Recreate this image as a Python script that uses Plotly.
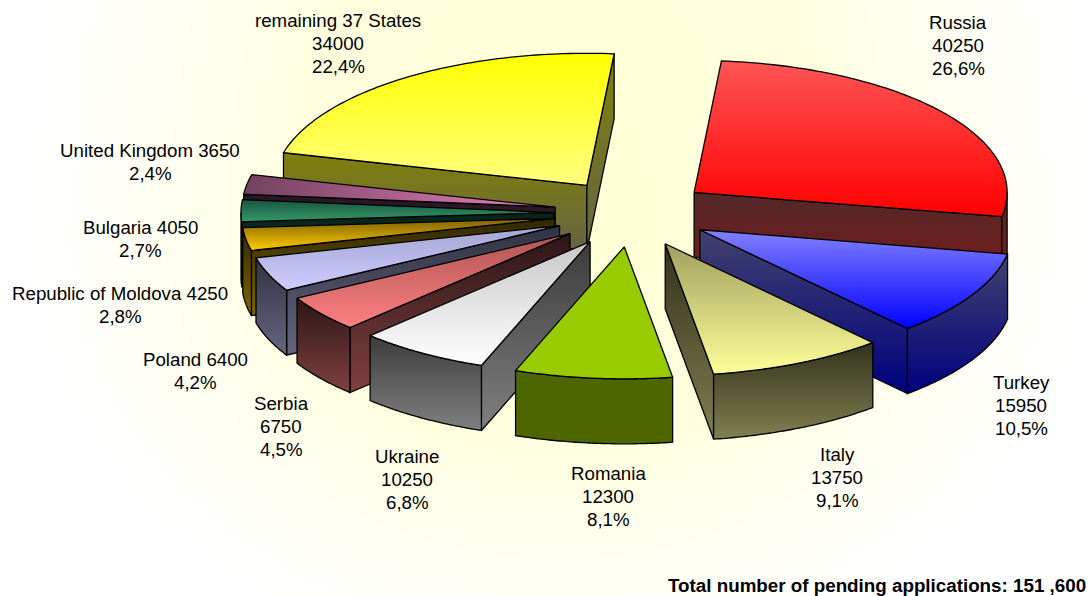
import math
import numpy as np
import plotly.graph_objects as go

# ---- data ----
names = ["Russia", "Turkey", "Italy", "Romania", "Ukraine", "Serbia", "Poland",
         "Republic of Moldova", "Bulgaria", "United Kingdom", "remaining 37 States"]
values = [40250, 15950, 13750, 12300, 10250, 6750, 6400, 4250, 4050, 3650, 34000]
percents = ["26,6%", "10,5%", "9,1%", "8,1%", "6,8%", "4,5%", "4,2%", "2,8%", "2,7%", "2,4%", "22,4%"]
name_value_same_line = [False, False, False, False, False, False, True, True, True, True, False]
total_text = "Total number of pending applications: 151 ,600"

# ---- styles ----
top_colors = [
    ("rgb(255,85,85)", "rgb(255,0,0)"), ("rgb(130,130,255)", "rgb(0,0,255)"),
    ("rgb(160,160,95)", "rgb(255,255,153)"), ("rgb(153,204,0)", "rgb(153,204,0)"),
    ("rgb(200,200,200)", "rgb(255,255,255)"), ("rgb(175,85,85)", "rgb(255,128,128)"),
    ("rgb(165,165,210)", "rgb(204,204,255)"), ("rgb(125,95,0)", "rgb(255,204,0)"),
    ("rgb(25,85,65)", "rgb(51,153,102)"), ("rgb(115,65,95)", "rgb(235,130,190)"),
    ("rgb(255,255,0)", "rgb(255,255,128)"),
]
wall_colors = [
    ("rgb(82,40,40)", "rgb(122,25,25)"), ("rgb(66,66,110)", "rgb(0,0,128)"),
    ("rgb(50,50,28)", "rgb(128,128,80)"), ("rgb(77,102,0)", "rgb(77,102,0)"),
    ("rgb(60,60,60)", "rgb(128,128,128)"), ("rgb(45,22,22)", "rgb(128,64,64)"),
    ("rgb(50,50,68)", "rgb(102,102,128)"), ("rgb(50,38,0)", "rgb(128,102,0)"),
    ("rgb(8,35,25)", "rgb(15,60,45)"), ("rgb(40,22,35)", "rgb(60,35,50)"),
    ("rgb(128,128,10)", "rgb(100,100,70)"),
]
horizontal_top = {9}
draw_order = [10, 0, 9, 8, 7, 6, 5, 4, 1, 2, 3]
label_xy = [(958, 45), (1021, 405), (837, 477), (608, 496), (407, 479), (281, 426.6),
            (195, 371), (120, 305), (140, 239), (150, 162), (338, 43)]
LINE_STEP = 23

CX, CY = 632.0, 213.0     # undisplaced pie centre
RX, RY = 313.0, 132.0     # pie ellipse radii
EX, EY = 78.0, 34.0       # explosion radii
DEPTH = 65.0
START = 5.0               # degrees clockwise from 12 o'clock


def pt(cx, cy, deg):
    r = math.radians(deg)
    return cx + RX * math.sin(r), cy - RY * math.cos(r)


fig = go.Figure()

# background glow
gx = np.linspace(0, 1089, 110)
gy = np.linspace(0, 596, 61)
X, Y = np.meshgrid(gx, gy)
Ry = np.where(Y < 240, 900.0, 430.0)
Z = np.clip(np.sqrt(((X - 560) / 530) ** 2 + ((Y - 240) / Ry) ** 2), 0, 1)
fig.add_trace(go.Heatmap(x=gx, y=gy, z=Z, zmin=0, zmax=1, zsmooth="best", showscale=False,
                         colorscale=[[0, "rgb(255,255,212)"], [0.5, "rgb(255,255,224)"],
                                     [0.75, "rgb(255,255,242)"], [1, "rgb(255,255,255)"]],
                         hoverinfo="skip"))


def poly(xs, ys, colors, kind="vertical"):
    # vertical gradients run bottom-to-top, so the lower colour comes first
    c0, c1 = (colors[1], colors[0]) if kind == "vertical" else colors
    fig.add_trace(go.Scatter(
        x=list(xs) + [xs[0]], y=list(ys) + [ys[0]], mode="lines", fill="toself",
        line=dict(color="black", width=1.3, simplify=False),
        fillgradient=dict(type=kind, colorscale=[[0, c0], [1, c1]]),
        hoverinfo="skip", showlegend=False))


# slice angles from the values
total = sum(values)
angles = []
a = START
for v in values:
    b = a + 360.0 * v / total
    angles.append((a, b))
    a = b

for i in draw_order:
    a, b = angles[i]
    mid = math.radians((a + b) / 2)
    cx = CX + EX * math.sin(mid)
    cy = CY - EY * math.cos(mid)
    wc = wall_colors[i]
    # radial faces
    if math.sin(math.radians(a)) < 0:
        px, py = pt(cx, cy, a)
        poly([cx, px, px, cx], [cy, py, py + DEPTH, cy + DEPTH], wc)
    if math.sin(math.radians(b)) > 0:
        px, py = pt(cx, cy, b)
        poly([cx, px, px, cx], [cy, py, py + DEPTH, cy + DEPTH], wc)
    # outer wall
    lo, hi = max(a, 90), min(b, 270)
    if hi > lo:
        th = np.linspace(lo, hi, 60)
        pts = [pt(cx, cy, t) for t in th]
        xs = [p[0] for p in pts] + [p[0] for p in reversed(pts)]
        ys = [p[1] for p in pts] + [p[1] + DEPTH for p in reversed(pts)]
        poly(xs, ys, wc)
    # top face
    th = np.linspace(a, b, 80)
    pts = [pt(cx, cy, t) for t in th]
    xs = [cx] + [p[0] for p in pts]
    ys = [cy] + [p[1] for p in pts]
    poly(xs, ys, top_colors[i], "horizontal" if i in horizontal_top else "vertical")

# labels, one annotation per line to hold the reference's line spacing
for i, n in enumerate(names):
    if name_value_same_line[i]:
        lines = [f"{n} {values[i]}", percents[i]]
    else:
        lines = [n, str(values[i]), percents[i]]
    y0 = label_xy[i][1] - (len(lines) - 1) * LINE_STEP / 2
    for k, line in enumerate(lines):
        fig.add_annotation(x=label_xy[i][0], y=y0 + k * LINE_STEP, xref="x", yref="y",
                           text=line, showarrow=False, align="center",
                           font=dict(family="Liberation Sans", size=18.7, color="black"))
fig.add_annotation(x=1088, y=585, xref="x", yref="y", xanchor="right", text=f"<b>{total_text}</b>",
                   showarrow=False, font=dict(family="Liberation Sans", size=18.8, color="black"))

fig.update_layout(width=1089, height=596, margin=dict(l=0, r=0, t=0, b=0),
                  paper_bgcolor="white", plot_bgcolor="white", showlegend=False,
                  xaxis=dict(range=[0, 1089], visible=False, fixedrange=True),
                  yaxis=dict(range=[596, 0], visible=False, fixedrange=True))

fig.write_html("out.html", config={"displayModeBar": False},
               post_script="document.body.style.margin='0';document.body.style.overflow='hidden';")
